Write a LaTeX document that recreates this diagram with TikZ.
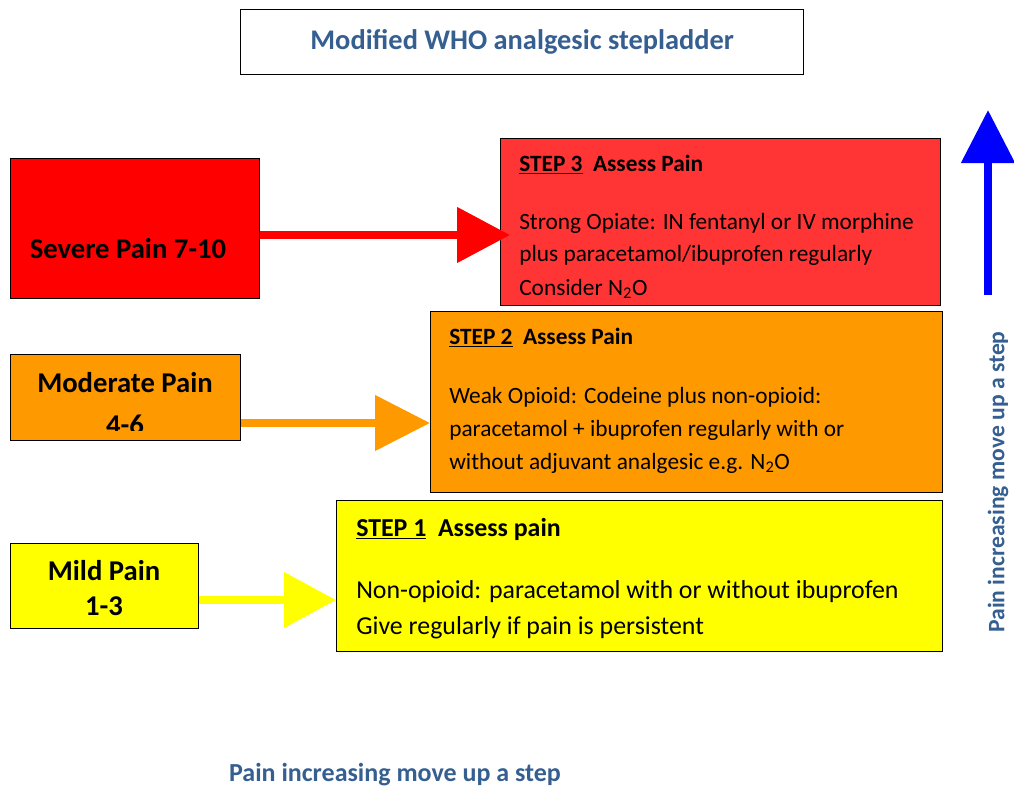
\documentclass[tikz,border=0pt]{standalone}
\usepackage{fontspec}
\setmainfont{Carlito}
\usetikzlibrary{arrows.meta,positioning}
\definecolor{severered}{HTML}{FF0000}
\definecolor{stepred}{HTML}{FF3535}
\definecolor{modorange}{HTML}{FF9900}
\definecolor{mildyellow}{HTML}{FFFF00}
\definecolor{headblue}{HTML}{365F91}
\definecolor{upblue}{HTML}{0000FF}
\tikzset{
  box/.style={draw=black,line width=1pt,anchor=north west,inner sep=0pt},
  painlabel/.style={font=\bfseries\fontsize{21.5}{24}\selectfont,anchor=base,inner sep=0pt},
  stephead/.style={font=\bfseries\fontsize{17.5}{20}\selectfont,anchor=base west,inner sep=0pt},
  steptext/.style={font=\fontsize{17.5}{20}\selectfont,anchor=base west,inner sep=0pt},
  headtext/.style={font=\bfseries\fontsize{19.5}{22}\selectfont,text=headblue,inner sep=0pt},
  redarr/.style={draw=severered,line width=6pt,-{Triangle[length=39.75pt,width=40.5pt]}},
  orangearr/.style={draw=modorange,line width=6pt,-{Triangle[length=41.25pt,width=40.5pt]}},
  yellowarr/.style={draw=mildyellow,line width=6pt,-{Triangle[length=39pt,width=40.5pt]}},
  bluearr/.style={draw=upblue,line width=6pt,-{Triangle[length=39.75pt,width=39pt]}}
}
\begin{document}
\begin{tikzpicture}[x=0.75pt,y=-0.75pt]
  \useasboundingbox (0,0) rectangle (1014,789);

  % title
  \node[box,minimum width=422.25pt,minimum height=48.75pt] (title) at (240,9) {};
  \node[headtext,font=\bfseries\fontsize{21.3}{24}\selectfont] (titletext) at (title.center) {Modified WHO analgesic stepladder};

  % pain scores
  \node[box,fill=severered,minimum width=186.75pt,minimum height=105pt] (severe) at (10,158) {};
  \node[painlabel] (severetext) at (128,258) {Severe Pain 7-10};

  \node[box,fill=modorange,minimum width=172.5pt,minimum height=64.5pt] (moderate) at (10,354) {};
  \begin{scope}
    \clip (10,354) rectangle (240,430);
    \node[painlabel] (moderatetext) at (125,392) {Moderate Pain};
    \node[painlabel] (moderatenum) at (125,434) {4-6};
  \end{scope}

  \node[box,fill=mildyellow,minimum width=141pt,minimum height=63.75pt] (mild) at (10,543) {};
  \node[painlabel] (mildtext) at (104,580) {Mild Pain};
  \node[painlabel] (mildnum) at (104,615) {1-3};

  % steps
  \node[box,fill=stepred,minimum width=330pt,minimum height=125.25pt] (step3) at (500,138) {};
  \node[stephead] (step3head) at (519,171) {\underline{STEP 3}\hspace{0.45em}Assess Pain};
  \node[steptext] (step3a) at (519,229) {Strong Opiate: IN fentanyl or IV morphine};
  \node[steptext] (step3b) at (519,261) {plus paracetamol/ibuprofen regularly};
  \node[steptext] (step3c) at (519,295) {Consider N\textsubscript{2}O};

  \node[box,fill=modorange,minimum width=384pt,minimum height=135.75pt] (step2) at (430,311) {};
  \node[stephead] (step2head) at (449,344) {\underline{STEP 2}\hspace{0.45em}Assess Pain};
  \node[steptext] (step2a) at (449,403) {Weak Opioid: Codeine plus non-opioid:};
  \node[steptext] (step2b) at (449,436) {paracetamol + ibuprofen regularly with or};
  \node[steptext] (step2c) at (449,469) {without adjuvant analgesic e.g. N\textsubscript{2}O};

  \node[box,fill=mildyellow,minimum width=454.5pt,minimum height=113.25pt] (step1) at (336,500) {};
  \node[stephead,font=\bfseries\fontsize{19.4}{22}\selectfont] (step1head) at (356,536) {\underline{STEP 1}\hspace{0.45em}Assess pain};
  \node[steptext,font=\fontsize{19.4}{22}\selectfont] (step1a) at (356,598) {Non-opioid: paracetamol with or without ibuprofen};
  \node[steptext,font=\fontsize{19.4}{22}\selectfont] (step1b) at (356,634) {Give regularly if pain is persistent};

  % arrows
  \draw[redarr] (severe.east |- 0,235) -- ([xshift=7.5pt]step3.west |- 0,235);
  \draw[orangearr] (moderate.east |- 0,423) -- (step2.west |- 0,423);
  \draw[yellowarr] (mild.east |- 0,600) -- (step1.west |- 0,600);

  \coordinate (upbot) at (988,295);
  \coordinate (uptop) at (988,110);
  \draw[bluearr] (upbot) -- (uptop);

  \node[headtext,rotate=90,font=\bfseries\fontsize{17.7}{20}\selectfont] (sidetext) at (998,482) {Pain increasing move up a step};
  \node[headtext] (bottomtext) at (395,775) {Pain increasing move up a step};
\end{tikzpicture}
\end{document}
